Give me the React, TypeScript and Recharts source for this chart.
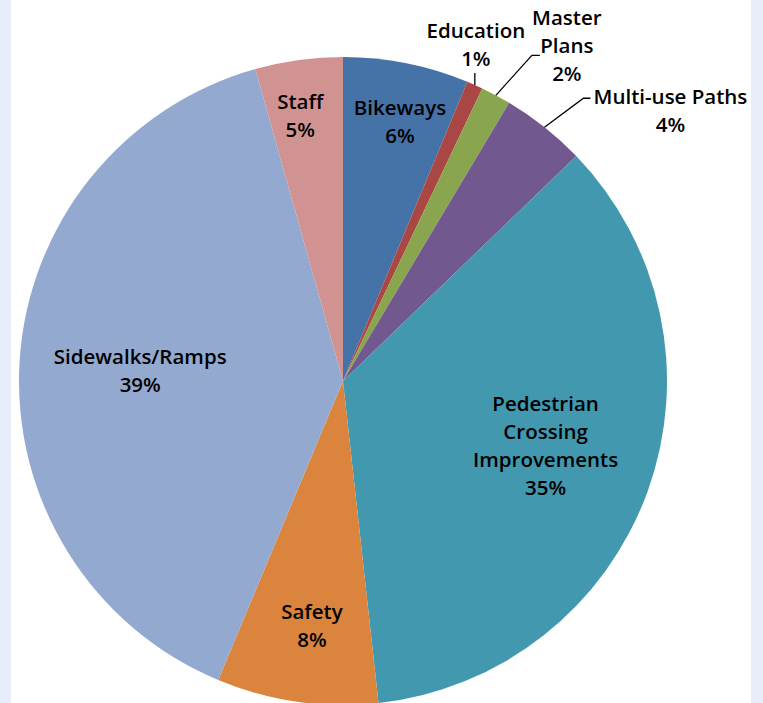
import React from 'react'
import { PieChart, Pie, Cell } from 'recharts'

const categories = [
  'Bikeways',
  'Education',
  'Master Plans',
  'Multi-use Paths',
  'Pedestrian Crossing Improvements',
  'Safety',
  'Sidewalks/Ramps',
  'Staff',
]

// shares
const values = [6.27, 0.8, 1.5, 4.22, 35.46, 8.04, 39.35, 4.36]

// percentages as printed on the chart
const pctLabels = ['6%', '1%', '2%', '4%', '35%', '8%', '39%', '5%']

const COLORS = ['#4572A7', '#AA4643', '#89A54E', '#71588F', '#4198AF', '#DB843D', '#93A9CF', '#D19392']

// how each label is wrapped
const LINES: Record<string, string[]> = {
  'Master Plans': ['Master', 'Plans'],
  'Pedestrian Crossing Improvements': ['Pedestrian', 'Crossing', 'Improvements'],
}

// label placement: inside labels sit at r * outerRadius on the mid angle,
// outside ones hang off the arc with a leader line
type Place =
  | { kind: 'in'; r: number; dx: number; dy: number }
  | { kind: 'out'; knee: [number, number] | null; end: [number, number]; tx: number; ty: number }

const PLACES: Place[] = [
  { kind: 'in', r: 0.82, dx: 5, dy: 1 },
  { kind: 'out', knee: null, end: [0, -12], tx: 1, ty: -41 },
  { kind: 'out', knee: [36, -40], end: [44, -40], tx: 71, ty: -50 },
  { kind: 'out', knee: [39, -29], end: [46, -29], tx: 126, ty: -17 },
  { kind: 'in', r: 0.655, dx: 3, dy: -8 },
  { kind: 'in', r: 0.762, dx: 4, dy: 0 },
  { kind: 'in', r: 0.627, dx: 0, dy: 1 },
  { kind: 'in', r: 0.83, dx: -6, dy: 0 },
]

const data = categories.map((name, i) => ({ name, value: values[i], pct: pctLabels[i] }))

const FONT = '"Open Sans", Lato, sans-serif'
const LINE_H = 28
const RAD = Math.PI / 180

const renderLabel = (props: any) => {
  const { cx, cy, midAngle, outerRadius, index } = props
  const place = PLACES[index]
  const item = data[index]
  const lines = [...(LINES[item.name] || [item.name]), item.pct]
  const cos = Math.cos(-midAngle * RAD)
  const sin = Math.sin(-midAngle * RAD)

  let tx: number
  let ty: number
  let leader: React.ReactNode = null
  if (place.kind === 'in') {
    const r = outerRadius * place.r
    tx = cx + r * cos + place.dx
    ty = cy + r * sin + place.dy
  } else {
    const ax = cx + outerRadius * cos
    const ay = cy + outerRadius * sin
    const pts = [[ax, ay]]
    if (place.knee) pts.push([ax + place.knee[0], ay + place.knee[1]])
    pts.push([ax + place.end[0], ay + place.end[1]])
    leader = (
      <polyline
        points={pts.map((p) => p.join(',')).join(' ')}
        fill="none"
        stroke="#000"
        strokeWidth={1.3}
      />
    )
    tx = ax + place.tx
    ty = ay + place.ty
  }

  const top = ty - ((lines.length - 1) * LINE_H) / 2
  return (
    <g key={`lbl-${index}`}>
      {leader}
      <text
        x={tx}
        y={top}
        textAnchor="middle"
        dominantBaseline="central"
        fill="#000"
        fontFamily={FONT}
        fontSize={20.5}
        fontWeight={600}
      >
        {lines.map((ln, j) => (
          <tspan key={j} x={tx} y={top + j * LINE_H}>
            {ln}
          </tspan>
        ))}
      </text>
    </g>
  )
}

export default function App() {
  return (
    <div
      style={{
        position: 'absolute',
        left: 0,
        top: 0,
        width: 763,
        height: 703,
        background: '#fff',
        overflow: 'hidden',
      }}
    >
      <div style={{ position: 'absolute', left: 0, top: 0, width: 11, height: 703, background: '#E9EDF9' }} />
      <div style={{ position: 'absolute', left: 751, top: 0, width: 12, height: 703, background: '#E9EDF9' }} />
      <div style={{ position: 'absolute', left: 0, top: 0 }}>
        <PieChart width={763} height={703} margin={{ top: 0, right: 0, bottom: 0, left: 0 }}>
          <Pie
            data={data}
            dataKey="value"
            nameKey="name"
            cx={343}
            cy={381}
            outerRadius={324}
            startAngle={90}
            endAngle={-270}
            stroke="none"
            label={renderLabel}
            labelLine={false}
            isAnimationActive={false}
          >
            {data.map((entry, index) => (
              <Cell key={`cell-${index}`} fill={COLORS[index % COLORS.length]} />
            ))}
          </Pie>
        </PieChart>
      </div>
    </div>
  )
}
